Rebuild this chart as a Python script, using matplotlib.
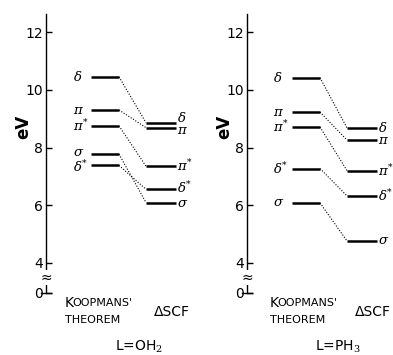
import matplotlib.pyplot as plt

plt.rcParams['font.family'] = ['DejaVu Sans']
plt.rcParams['mathtext.fontset'] = 'dejavuserif'

# orbital labels and energies (eV), same order in every list
levels = [r'$\delta$', r'$\pi$', r'$\pi^{*}$', r'$\sigma$', r'$\delta^{*}$']
oh2_koop = [10.45, 9.30, 8.75, 7.77, 7.38]
oh2_dscf = [8.86, 8.69, 7.35, 6.09, 6.55]
ph3_koop = [10.42, 9.23, 8.71, 6.08, 7.27]
ph3_dscf = [8.68, 8.26, 7.20, 4.76, 6.32]

ticks = [4, 6, 8, 10, 12]
y_zero = 2.955   # where "0" sits below the axis break
y_top = 12.63

W, H = 393, 355
fig = plt.figure(figsize=(W / 100, H / 100), dpi=100)


def panel(x0, width, koop, dscf, lab_off, kshift, dshift):
    ax = fig.add_axes([x0 / W, 62 / H, width / W, 279 / H])
    ax.set_xlim(0, width)
    ax.set_ylim(y_zero, y_top)
    for s in ['top', 'right', 'bottom']:
        ax.spines[s].set_visible(False)
    ax.spines['left'].set_linewidth(1.0)
    ax.set_xticks([])
    ax.set_yticks(ticks + [y_zero])
    ax.set_yticklabels([str(t) for t in ticks] + ['0'], fontsize=10)
    ax.tick_params(axis='y', direction='in', length=4, width=1.0, pad=2)
    # bottom of the axis and the break mark
    ax.plot([-5, 5], [y_zero, y_zero], color='black', lw=1.0, clip_on=False)
    ax.text(0, 3.48, '≈', ha='center', va='center', fontsize=10,
            bbox=dict(facecolor='white', edgecolor='none', pad=0.3),
            clip_on=False)
    ax.text(-23, 8.72, 'eV', rotation=90, ha='center', va='center',
            fontsize=12, fontweight='bold', clip_on=False)

    k0, k1 = 45, 73
    d0, d1 = 100, 130
    for lab, yk, yd, ks, ds in zip(levels, koop, dscf, kshift, dshift):
        ax.plot([k0, k1], [yk, yk], color='black', lw=1.8, solid_capstyle='butt')
        ax.plot([d0, d1], [yd, yd], color='black', lw=1.8, solid_capstyle='butt')
        ax.plot([k1, d0], [yk, yd], color='black', lw=0.8, ls=(0, (1, 1.5)))
        ax.text(lab_off, yk + ks, lab, ha='left', va='center', fontsize=9.5)
        ax.text(d1 + 1, yd + ds, lab, ha='left', va='center', fontsize=9.5)
    return ax


panel(46, 150, oh2_koop, oh2_dscf, 27,
      [0, 0, 0, 0.06, -0.06], [0.17, -0.09, 0, -0.03, 0.03])
panel(247, 146, ph3_koop, ph3_dscf, 26, [0] * 5, [0] * 5)


def fx(x):
    return x / W


def fy(y):
    return 1 - y / H


for x_k, x_d, x_l, name in [(65, 154, 115, 'L=OH$_2$'), (270, 355, 315, 'L=PH$_3$')]:
    fig.text(fx(x_k), fy(303), 'K', fontsize=10, va='center', ha='left')
    fig.text(fx(x_k + 7.5), fy(303), "OOPMANS'", fontsize=8, va='center', ha='left')
    fig.text(fx(x_k), fy(320), 'THEOREM', fontsize=8, va='center', ha='left')
    fig.text(fx(x_d), fy(312), 'ΔSCF', fontsize=10, va='center', ha='left')
    fig.text(fx(x_l), fy(347), name, fontsize=10, va='center', ha='left')

plt.savefig('out.png', dpi=100)
